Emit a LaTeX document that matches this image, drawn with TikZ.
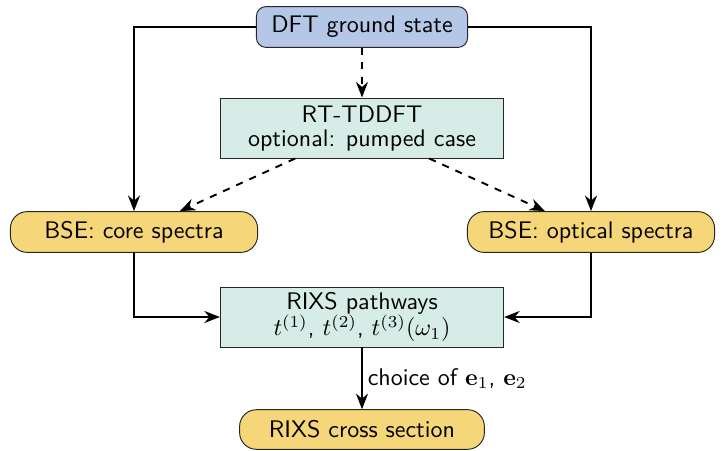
\documentclass[tikz,border=0pt]{standalone}
\usepackage{amsmath,amssymb}
\usepackage{xcolor}
\usepackage{tikz}
\usetikzlibrary{arrows.meta,positioning}
\definecolor{gsblue}{HTML}{B4C7E7}
\definecolor{calcteal}{HTML}{D5EDE6}
\definecolor{specyel}{HTML}{F5D77A}
\tikzset{
  gs/.style={draw=black!85,fill=gsblue,rounded corners=4pt,minimum width=88pt,minimum height=17pt,inner sep=2pt,font=\sffamily},
  calcbox/.style={draw=black!85,fill=calcteal,align=center,minimum width=118pt,minimum height=25pt,inner sep=2pt,font=\sffamily},
  spec/.style={draw=black!85,fill=specyel,rounded corners=7pt,minimum width=103pt,minimum height=17pt,inner sep=2pt,font=\sffamily},
  ar/.style={-{Stealth[length=6.5pt,width=5pt]},thick},
  ard/.style={ar,dashed}
}

\begin{document}
\begin{tikzpicture}[x=0.4167pt,y=0.4167pt]
\useasboundingbox (0,0) rectangle (725,450);
\node[gs] (dft) at (362,423) {DFT ground state};
\node[calcbox] (rt) at (362,322) {RT-TDDFT\\[-2pt]optional: pumped case};
\node[spec] (core) at (134,218) {BSE: core spectra};
\node[spec] (opt) at (591,218) {BSE: optical spectra};
\node[calcbox] (path) at (362,133) {RIXS pathways\\[-1pt]$t^{(1)}$, $t^{(2)}$, $t^{(3)}(\omega_1)$};
\node[spec,minimum width=102pt,minimum height=16.5pt] (cross) at (362,20.5) {RIXS cross section};
% ground state feeds everything
\draw[ard] (dft) -- (rt);
\draw[ar] (dft.west) -| (core);
\draw[ar] (dft.east) -| (opt);
\draw[ard] (rt) -- (core);
\draw[ard] (rt) -- (opt);
% spectra into the pathways
\draw[ar] (core) |- (path);
\draw[ar] (opt) |- (path);
\draw[ar] (path) -- node[right,inner sep=2pt,font=\sffamily]{choice of $\mathbf{e}_1$, $\mathbf{e}_2$} (cross);
\end{tikzpicture}
\end{document}
